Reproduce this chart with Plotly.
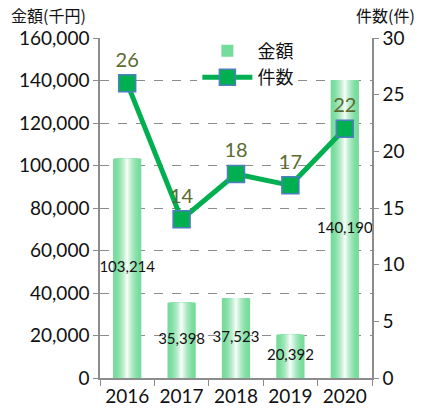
import plotly.graph_objects as go

years = ["2016", "2017", "2018", "2019", "2020"]
amounts = [103214, 35398, 37523, 20392, 140190]
counts = [26, 14, 18, 17, 22]
amount_labels = ["103,214", "35,398", "37,523", "20,392", "140,190"]
left_ticks = [0, 20000, 40000, 60000, 80000, 100000, 120000, 140000, 160000]
left_ticktext = ["0", "20,000", "40,000", "60,000", "80,000", "100,000", "120,000", "140,000", "160,000"]

FONT = "Noto Sans CJK JP"
NUMFONT = "Lato"
edge = (118, 220, 155)
N = 18
BAR_W = 0.52

fig = go.Figure()
for k in range(N):
    t = k / N
    m = t ** 1.8
    c = tuple(round(edge[i] + (255 - edge[i]) * m) for i in range(3))
    fig.add_trace(go.Bar(
        x=years, y=amounts, width=BAR_W * (1 - t),
        marker=dict(color="rgb(%d,%d,%d)" % c, line=dict(width=0)),
        name="金額", showlegend=(k == 0), hoverinfo="skip",
        legendrank=1,
    ))

fig.add_trace(go.Scatter(
    x=years, y=[a / 2 for a in amounts], text=amount_labels,
    mode="text", textfont=dict(family=NUMFONT, size=15, color="#111"),
    showlegend=False, hoverinfo="skip",
))

fig.add_trace(go.Scatter(
    x=years, y=counts, yaxis="y2", name="件数",
    mode="lines+markers+text", text=[str(c) for c in counts],
    textposition="top center",
    textfont=dict(family=NUMFONT, size=20, color="#5b6b2f"),
    line=dict(color="#00B050", width=5),
    marker=dict(symbol="square", size=17, color="#00B050",
                line=dict(color="#4F7DC0", width=1.5)),
    legendrank=2,
))

grid = "#8c8c8c"
tickf = dict(family=NUMFONT, size=19, color="#111")
fig.update_layout(
    width=426, height=414,
    margin=dict(l=100, r=54, t=38, b=36, autoexpand=False),
    plot_bgcolor="white", paper_bgcolor="white",
    barmode="overlay",
    font=dict(family=FONT, size=18, color="#111"),
    xaxis=dict(type="category", showline=True, linecolor=grid, linewidth=1.5,
               ticks="outside", tickson="boundaries", ticklen=6, tickcolor=grid,
               showgrid=False, tickfont=tickf, automargin=False),
    yaxis=dict(range=[0, 160000], tickvals=left_ticks, ticktext=left_ticktext,
               showline=True, linecolor=grid, linewidth=1.5,
               ticks="outside", ticklen=5, tickcolor=grid,
               showgrid=True, gridcolor=grid, griddash="dash", gridwidth=1.2,
               zeroline=False, tickfont=tickf, automargin=False),
    yaxis2=dict(range=[0, 30], dtick=5, overlaying="y", side="right",
                showline=True, linecolor=grid, linewidth=1.5,
                ticks="outside", ticklen=5, tickcolor=grid,
                showgrid=False, zeroline=False, tickfont=tickf,
                automargin=False),
    legend=dict(x=0.358, y=1.016, xanchor="left", yanchor="top",
                bgcolor="white", font=dict(size=18), itemwidth=50,
                tracegroupgap=0),
    showlegend=True,
    annotations=[
        dict(text="金額(千円)", xref="paper", yref="paper", x=-0.331, y=1,
             xanchor="left", yanchor="middle", yshift=23, showarrow=False,
             font=dict(size=16), borderpad=0),
        dict(text="件数(件)", xref="paper", yref="paper", x=1.162, y=1,
             xanchor="right", yanchor="middle", yshift=23, showarrow=False,
             font=dict(size=16), borderpad=0),
    ],
)

fig.write_html("out.html", config={"displayModeBar": False},
               post_script="document.body.style.margin='0';")
